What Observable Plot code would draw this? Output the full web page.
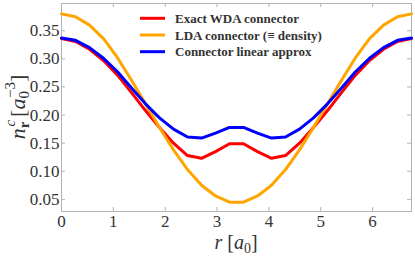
<!DOCTYPE html>
<html><head><meta charset="utf-8">
<script src="https://cdn.jsdelivr.net/npm/d3@7"></script>
<script src="https://cdn.jsdelivr.net/npm/@observablehq/plot@0.6"></script>
<style>body{margin:0;background:#fff} svg text{font-family:"Liberation Serif","Times New Roman","DejaVu Serif",serif !important}</style>
</head><body><div id="chart"></div>
<script>
const rValues = [0,0.27,0.54,0.81,1.08,1.35,1.62,1.89,2.16,2.43,2.70,2.97,3.24,3.51,3.78,4.05,4.32,4.59,4.86,5.13,5.40,5.67,5.94,6.21,6.48,6.75];
const exactWDA = [0.336,0.331,0.317,0.297,0.271,0.240,0.208,0.178,0.150,0.128,0.123,0.135,0.149,0.149,0.135,0.123,0.128,0.150,0.178,0.208,0.240,0.271,0.297,0.317,0.331,0.336];
const ldaConn = [0.380,0.375,0.360,0.336,0.302,0.262,0.220,0.178,0.138,0.103,0.075,0.056,0.045,0.045,0.056,0.075,0.103,0.138,0.178,0.220,0.262,0.302,0.336,0.360,0.375,0.380];
const linApprox = [0.337,0.333,0.320,0.301,0.277,0.248,0.220,0.195,0.175,0.161,0.159,0.168,0.178,0.178,0.168,0.159,0.161,0.175,0.195,0.220,0.248,0.277,0.301,0.320,0.333,0.337];
const seriesNames = ["Exact WDA connector","LDA connector (\u2261 density)","Connector linear approx"];
const seriesColors = ["#ff0000","#ffa500","#0000ff"];
const xTicks = [0,1,2,3,4,5,6];
const yTicks = [0.05,0.10,0.15,0.20,0.25,0.30,0.35];

const W=415,H=257,mL=61,mR=4,mT=3,mB=46;
const plotW=W-mL-mR, plotH=H-mT-mB;
const allSeries=[exactWDA,ldaConn,linApprox];
const toRows = vals => rValues.map((r,i)=>({r, v: vals[i]}));
const grid = "#b3b3b3";

const chart = Plot.plot({
  width:W, height:H, marginLeft:mL, marginRight:mR, marginTop:mT, marginBottom:mB,
  style:{fontFamily:"'Liberation Serif', serif", fontSize:"17px", background:"white", color:"#333"},
  x:{domain:[0,6.75]},
  y:{domain:[0.0284,0.3985]},
  marks:[
    Plot.frame({stroke:grid}),
    Plot.tickX(xTicks,{x:d=>d, stroke:grid, insetTop:plotH-4}),
    Plot.tickX(xTicks,{x:d=>d, stroke:grid, insetBottom:plotH-4}),
    Plot.tickY(yTicks,{y:d=>d, stroke:grid, insetRight:plotW-4}),
    Plot.tickY(yTicks,{y:d=>d, stroke:grid, insetLeft:plotW-4}),
    Plot.axisX(xTicks,{tickSize:0, tickPadding:3.5, label:null, fill:"#333"}),
    Plot.axisY(yTicks,{tickSize:0, tickPadding:2, label:null, fill:"#333", tickFormat:d3.format(".2f")}),
    ...allSeries.map((s,i)=>Plot.line(toRows(s),{x:"r", y:"v", stroke:seriesColors[i], strokeWidth:3, strokeLinejoin:"miter"}))
  ]
});
document.getElementById("chart").appendChild(chart);

const svg = d3.select(chart);
// legend
const lg = svg.append("g").attr("font-size",13).attr("font-weight","bold").attr("fill","#333").attr("text-anchor","start");
seriesNames.forEach((n,i)=>{
  const y = 18.3 + i*16.7;
  lg.append("line").attr("x1",140).attr("x2",165).attr("y1",y).attr("y2",y).attr("stroke",seriesColors[i]).attr("stroke-width",3);
  lg.append("text").attr("x",175).attr("y",y+4.5).text(n);
});
// x label
const xl = svg.append("text").attr("x",mL+plotW/2).attr("y",249).attr("text-anchor","middle")
  .attr("font-size",20).attr("fill","#333");
xl.append("tspan").attr("font-style","italic").text("r");
xl.append("tspan").attr("dx",5).text("[");
xl.append("tspan").attr("font-style","italic").text("a");
xl.append("tspan").attr("font-size",14).attr("dy",4).text("0");
xl.append("tspan").attr("dy",-4).text("]");
// y label
const yl = svg.append("text").attr("transform",`translate(25,${mT+plotH/2}) rotate(-90)`).attr("text-anchor","middle")
  .attr("font-size",22).attr("fill","#333");
yl.append("tspan").attr("font-style","italic").text("n");
yl.append("tspan").attr("font-size",15).attr("font-weight","bold").attr("dy",4).text("r");
yl.append("tspan").attr("font-size",15).attr("font-style","italic").attr("dx",-5).attr("dy",-14).text("c");
yl.append("tspan").attr("dx",3).attr("dy",10).text("[");
yl.append("tspan").attr("font-style","italic").text("a");
yl.append("tspan").attr("font-size",15).attr("dy",4).text("0");
yl.append("tspan").attr("font-size",15).attr("dx",-7).attr("dy",-14).text("\u22123");
yl.append("tspan").attr("dy",10).text("]");
</script></body></html>
